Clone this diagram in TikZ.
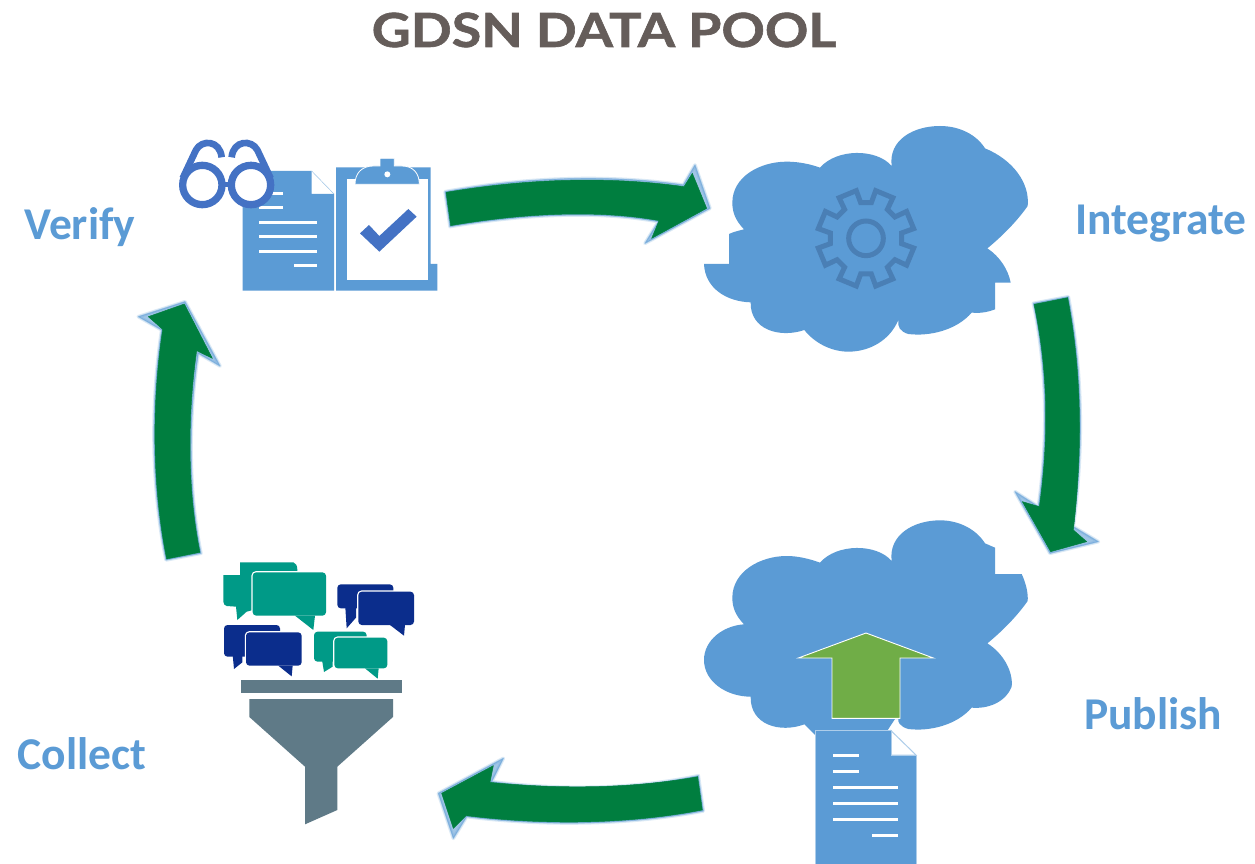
\documentclass[tikz,border=0pt]{standalone}
\usepackage{fontspec}
\setmainfont{Carlito}
\newfontfamily\titlefont[FakeStretch=1.145,FakeBold=1.3]{Lato}
\definecolor{sky}{HTML}{5B9BD5}
\definecolor{royal}{HTML}{4472C4}
\definecolor{leaf}{HTML}{70AD47}
\definecolor{pine}{HTML}{007E3F}
\definecolor{gearc}{HTML}{4A7FB5}
\definecolor{steel}{HTML}{5F7A87}
\definecolor{teal}{HTML}{009A87}
\definecolor{navy}{HTML}{0B2D8C}
\definecolor{titlec}{HTML}{655D5A}
\tikzset{
  lab/.style={font=\fontsize{45.5}{45.5}\selectfont\bfseries,text=sky,inner sep=0pt,anchor=center},
  zoomed/.style={x=0.33333pt,y=-0.33333pt},
  bandgreen/.style={fill=pine,draw=pine,line width=0.5pt,line join=round},
  haloouter/.style={draw=sky,fill=sky,opacity=0.22,line width=3.5pt,line join=round},
  haloinner/.style={draw=sky,fill=sky,opacity=0.45,line width=1.2pt,line join=round},
  docline/.style={draw=white,line width=3pt},
}
% block arrow: soft halo outline, then green core
\newcommand{\blockarrow}[2]{%
  \draw[haloouter] #1;
  \draw[haloinner] #1;
  \draw[bandgreen] #2;
}
% speech bubble: x1 y1 x2 y2 colour, tail a, b, c
\newcommand{\bubble}[8]{%
  \draw[white,line width=2.5pt,line join=round,rounded corners=3.5pt] (#1,#2) rectangle (#3,#4);
  \draw[white,line width=2.5pt,line join=round] #6 -- #7 -- #8;
  \fill[#5,rounded corners=3.5pt] (#1,#2) rectangle (#3,#4);
  \fill[#5] #6 -- #7 -- #8 -- cycle;
}
\begin{document}
\begin{tikzpicture}[x=1pt,y=-1pt]
\useasboundingbox (0,0) rectangle (1255,864);
\fill[white] (0,0) rectangle (1255,864);

\node[font=\titlefont\fontsize{47}{47}\selectfont\bfseries,text=titlec,inner sep=0pt] (title) at (604,30) {GDSN DATA POOL};
\node[lab] (verify) at (80,227) {Verify};
\node[lab] (integrate) at (1161,224) {Integrate};
\node[lab] (publish) at (1153,714) {Publish};
\node[lab] (collect) at (82,754) {Collect};

% block arrows
\begin{scope}[shift={(435pt,-160pt)},zoomed]
  \blockarrow{(30,95) .. controls (250,55) and (500,40) .. (745,75) -- (780,15) -- (825,145) -- (630,250) -- (670,185) .. controls (480,150) and (250,165) .. (45,200) -- cycle}
  {(33,97) .. controls (250,60) and (500,45) .. (747,80) -- (772,40) -- (815,145) -- (650,235) -- (672,182) .. controls (480,147) and (250,162) .. (47,197) -- cycle}
\end{scope}
\begin{scope}[shift={(1005pt,-285pt)},zoomed]
  \blockarrow{(85,55) -- (190,35) .. controls (235,270) and (235,500) .. (205,725) -- (280,770) -- (135,805) -- (30,620) -- (100,665) .. controls (130,450) and (125,250) .. (85,55) -- cycle}
  {(87,58) -- (188,38) .. controls (232,270) and (232,500) .. (205,735) -- (245,770) -- (137,800) -- (52,650) -- (103,665) .. controls (133,450) and (128,250) .. (87,58) -- cycle}
\end{scope}
\begin{scope}[shift={(430pt,-745pt)},zoomed]
  \blockarrow{(805,92) .. controls (600,135) and (380,135) .. (185,110) -- (220,40) -- (25,145) -- (70,280) -- (110,215) .. controls (350,245) and (600,240) .. (820,198) -- cycle}
  {(803,95) .. controls (600,132) and (380,132) .. (180,112) -- (190,62) -- (35,145) -- (70,250) -- (108,212) .. controls (350,242) and (600,237) .. (817,195) -- cycle}
\end{scope}
\begin{scope}[shift={(135pt,-290pt)},zoomed]
  \blockarrow{(93,810) -- (198,790) .. controls (160,600) and (160,380) .. (190,190) -- (255,228) -- (150,35) -- (10,80) -- (80,120) .. controls (45,350) and (50,600) .. (93,810) -- cycle}
  {(95,807) -- (195,787) .. controls (157,600) and (157,380) .. (185,182) -- (232,205) -- (148,42) -- (40,80) -- (83,118) .. controls (48,350) and (53,600) .. (95,807) -- cycle}
\end{scope}

% verify icon
\begin{scope}[shift={(170pt,-130pt)},zoomed]
  \fill[sky] (218,123) -- (425,123) -- (425,192) -- (492,192) -- (492,482) -- (218,482) -- cycle;
  \draw[sky!60,line width=0.5pt] (425,123) -- (492,192);
  \draw[docline] (268,191) -- (338,191) (268,234) -- (338,234) (268,277) -- (442,277) (268,320) -- (442,320) (268,364) -- (442,364) (372,407) -- (442,407);
  \fill[sky] (498,112) -- (782,112) -- (782,402) -- (802,402) -- (802,482) -- (498,482) -- cycle;
  \fill[white] (531,147) rectangle (775,450);
  \draw[white,line width=0.8pt,fill=sky] (555,163) .. controls (555,130) and (575,108) .. (610,108) -- (630,108) -- (630,85) -- (673,85) -- (673,108) -- (695,108) .. controls (730,108) and (748,130) .. (748,163) -- cycle;
  \fill[white] (652,133) circle[radius=9];
  \fill[royal] (570,310) -- (597,285) -- (628,318) -- (715,237) -- (740,260) -- (628,365) -- cycle;
  \draw[royal,line width=6.7pt,line cap=butt] (38,145) -- (78,60) .. controls (95,28) and (150,30) .. (155,82);
  \draw[royal,line width=6.7pt,line cap=butt] (302,145) -- (262,60) .. controls (245,28) and (190,30) .. (185,82);
  \draw[royal,fill=white,line width=7.3pt] (97,165) circle[radius=59] (243,165) circle[radius=59];
  \draw[royal,line width=5pt] (158,165) -- (182,165);
\end{scope}

% integrate cloud
\begin{scope}[shift={(700pt,-120pt)},zoomed]
  \fill[sky] (360,143) .. controls (410,85) and (530,85) .. (575,138)
    .. controls (565,60) and (640,18) .. (720,18) .. controls (780,18) and (830,45) .. (855,85)
    .. controls (940,120) and (990,190) .. (983,258) .. controls (950,305) and (905,350) .. (862,385)
    .. controls (900,410) and (925,450) .. (932,488) -- (885,488) -- (885,568) .. controls (860,578) and (835,580) .. (815,578)
    .. controls (770,630) and (690,650) .. (625,642) .. controls (600,635) and (592,620) .. (595,600)
    .. controls (570,660) and (510,695) .. (445,695) .. controls (390,695) and (340,665) .. (313,630)
    .. controls (240,655) and (150,630) .. (152,547) .. controls (80,545) and (15,505) .. (12,432)
    -- (87,432) -- (87,342) .. controls (100,336) and (115,332) .. (132,328)
    .. controls (105,300) and (97,275) .. (97,248) .. controls (97,170) and (180,125) .. (260,125)
    .. controls (295,125) and (330,132) .. (360,143) -- cycle;
  \begin{scope}[shift={(498,355)}]
    \draw[gearc,line width=5pt,line join=miter]
      (8.5:108) \foreach \a in {22.5,67.5,...,337.5} { -- ({\a-14}:108) -- ({\a-11}:146) -- ({\a+11}:146) -- ({\a+14}:108) } -- cycle;
    \draw[gearc,line width=5pt] (0,0) circle[radius=52];
  \end{scope}
\end{scope}

% publish cloud
\begin{scope}[shift={(700pt,-515pt)},zoomed]
  \fill[sky] (360,143) .. controls (410,85) and (530,85) .. (575,138)
    .. controls (565,60) and (640,16) .. (720,16) .. controls (780,16) and (830,45) .. (855,85) -- (885,98) -- (885,177) -- (965,177)
    .. controls (978,205) and (985,235) .. (983,258) .. controls (950,305) and (905,350) .. (862,385)
    .. controls (910,415) and (940,470) .. (935,515) .. controls (915,565) and (860,582) .. (815,578)
    .. controls (770,630) and (690,650) .. (625,642) .. controls (600,635) and (592,620) .. (595,612)
    -- (585,612) -- (560,650) -- (345,660) -- (313,628) .. controls (240,655) and (150,630) .. (152,545)
    .. controls (80,545) and (12,500) .. (12,435) .. controls (12,375) and (70,332) .. (132,328)
    .. controls (105,300) and (97,275) .. (97,248) .. controls (97,170) and (180,123) .. (260,123)
    .. controls (295,123) and (330,132) .. (360,143) -- cycle;
  \draw[white,line width=0.9pt,fill=leaf,line join=miter] (498,354) -- (700,429) -- (600,429) -- (600,610) -- (396,610) -- (396,429) -- (295,429) -- cycle;
  \draw[sky!50,line width=1pt,fill=white] (573,647) -- (573,720) -- (648,720) -- cycle;
  \draw[sky!50,line width=1pt,fill=sky] (345,1050) -- (345,647) -- (573,647) -- (573,720) -- (648,720) -- (648,1050);
  \draw[docline] (400,720) -- (478,720) (400,768) -- (478,768) (400,816) -- (593,816) (400,864) -- (593,864) (400,912) -- (593,912) (516,960) -- (593,960);
\end{scope}

% collect icon
\begin{scope}[shift={(210pt,-555pt)},zoomed]
  \fill[teal,line join=round] (90,22) -- (250,22) .. controls (258,24) and (262,32) .. (262,45) -- (262,130) -- (110,170) -- (82,195) -- (78,155) -- (50,153) .. controls (44,152) and (40,146) .. (40,140) -- (40,60) -- (90,60) -- cycle;
  \bubble{128}{52}{348}{182}{teal}{(255,182)}{(310,225)}{(315,182)}
  \fill[navy,rounded corners=3.5pt] (382,88) rectangle (550,160);
  \fill[navy] (406,158) -- (410,220) -- (438,188) -- (438,158) -- cycle;
  \bubble{445}{110}{612}{210}{navy}{(540,210)}{(582,242)}{(585,210)}
  \fill[navy,rounded corners=3.5pt] (42,210) rectangle (210,305);
  \fill[navy] (68,300) -- (72,342) -- (97,322) -- (97,300) -- cycle;
  \bubble{108}{232}{275}{332}{navy}{(205,332)}{(245,364)}{(248,332)}
  \fill[teal,rounded corners=3.5pt] (312,230) rectangle (470,320);
  \fill[teal] (336,315) -- (342,351) -- (368,335) -- (368,315) -- cycle;
  \bubble{373}{248}{532}{340}{teal}{(465,340)}{(503,371)}{(506,340)}
  \fill[steel] (92,376) rectangle (576,415);
  \fill[steel] (118,432) -- (549,432) -- (549,486) -- (382,635) -- (382,765) -- (285,808) -- (285,635) -- (118,486) -- cycle;
\end{scope}
\end{tikzpicture}
\end{document}
